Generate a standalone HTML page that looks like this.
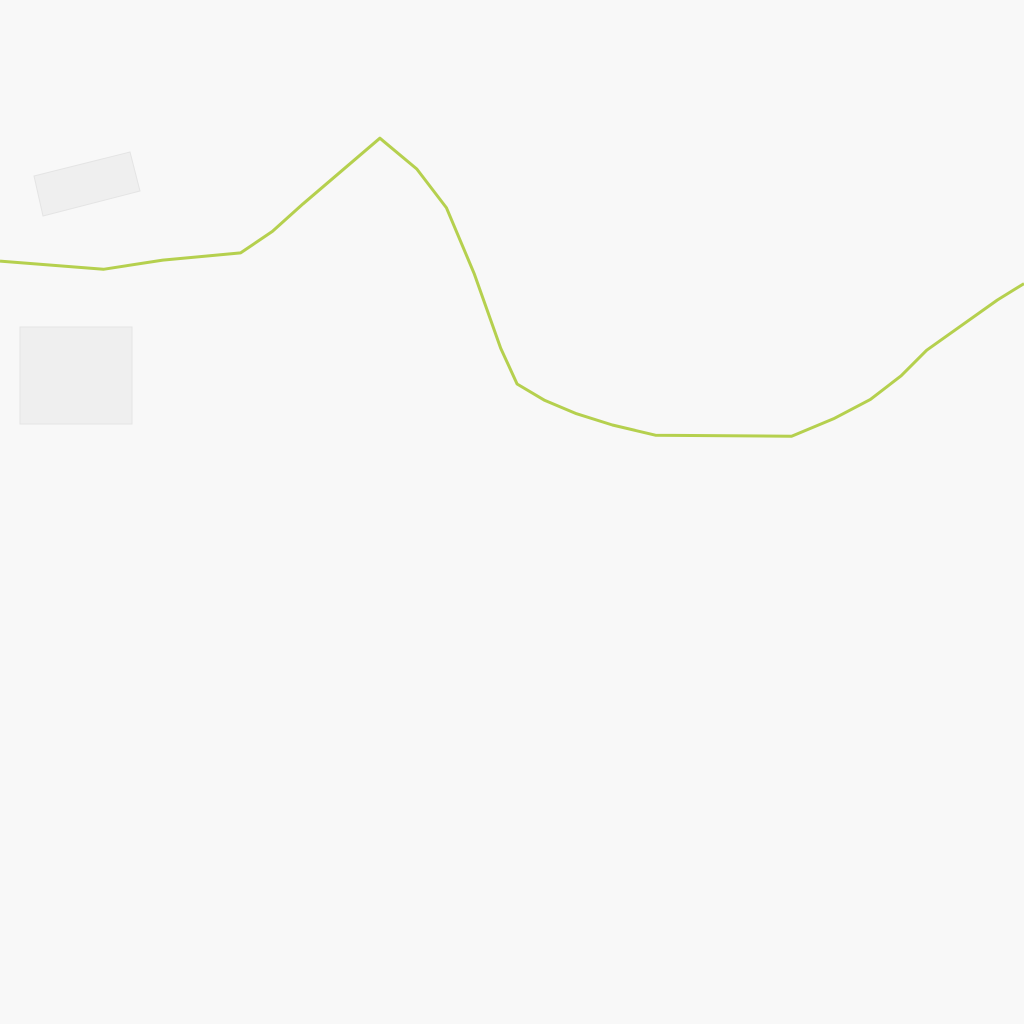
<!DOCTYPE html>
<html><head><meta charset="utf-8"><style>
html,body{margin:0;padding:0;background:#f8f8f8;}
svg{display:block;}
</style></head><body>
<svg id="chart" width="1024" height="1024" viewBox="0 0 1024 1024">
<rect x="0" y="0" width="1024" height="1024" fill="#f8f8f8"/>
<polygon points="34,176 130,152 140,191 43,216" fill="#efefef" stroke="#e4e4e4" stroke-width="1"/>
<rect x="20" y="327" width="112" height="97" fill="#efefef" stroke="#e4e4e4" stroke-width="1"/>
<g id="series"></g>
</svg>
<script>
const xValues = [0,10.1,15.9,23.5,26.6,29.6,37.1,40.7,43.6,46.3,48.9,50.5,53.2,56.3,59.8,64.0,77.3,81.4,85.0,88.0,90.5,97.4,100];
const yValues = [74.5,73.7,74.6,75.3,77.4,80.1,86.5,83.5,79.7,73.3,66.0,62.5,60.9,59.6,58.5,57.5,57.4,59.1,61.0,63.3,65.8,70.7,72.3];
function xScale(v){return v*10.24;}
function yScale(v){return 1024 - v*10.24;}
const g = document.getElementById('series');
const p = document.createElementNS('http://www.w3.org/2000/svg','path');
p.setAttribute('d', xValues.map((x,i)=>(i?'L':'M')+xScale(x).toFixed(1)+','+yScale(yValues[i]).toFixed(1)).join(' '));
p.setAttribute('fill','none');
p.setAttribute('stroke','#b5d04e');
p.setAttribute('stroke-width','3');
p.setAttribute('stroke-linejoin','round');


g.appendChild(p);
</script>
</body></html>
